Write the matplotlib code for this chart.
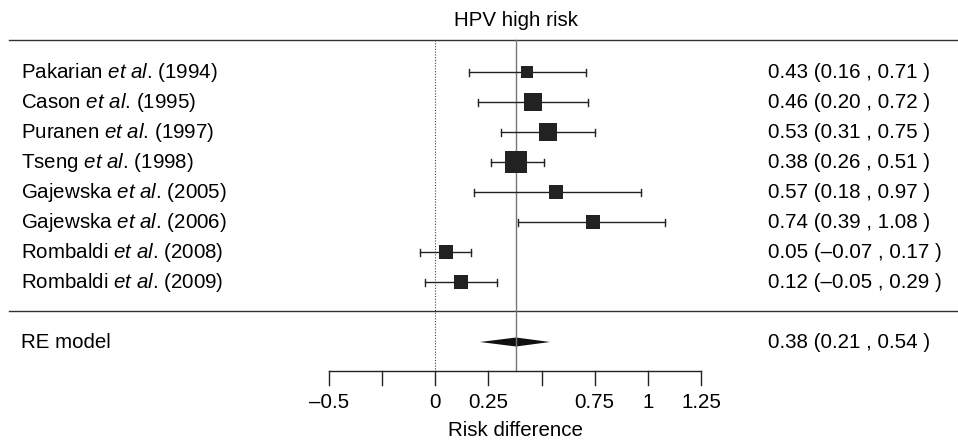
import numpy as np
import matplotlib
matplotlib.use("Agg")
import matplotlib.pyplot as plt
from matplotlib.transforms import blended_transform_factory

plt.rcParams['font.family'] = ['Liberation Sans', 'DejaVu Sans']
plt.rcParams['mathtext.fontset'] = 'custom'
plt.rcParams['mathtext.rm'] = 'Liberation Sans'
plt.rcParams['mathtext.it'] = 'Liberation Sans:italic'

# study data
authors = ["Pakarian", "Cason", "Puranen", "Tseng", "Gajewska",
           "Gajewska", "Rombaldi", "Rombaldi"]
years = [1994, 1995, 1997, 1998, 2005, 2006, 2008, 2009]
est = [0.43, 0.46, 0.53, 0.38, 0.57, 0.74, 0.05, 0.12]
lo = [0.16, 0.20, 0.31, 0.26, 0.18, 0.39, -0.07, -0.05]
hi = [0.71, 0.72, 0.75, 0.51, 0.97, 1.08, 0.17, 0.29]
weights = [6.9, 13.8, 15.4, 23.1, 10.7, 8.7, 10.7, 10.7]

re_est, re_lo, re_hi = 0.38, 0.21, 0.54

ticks = [-0.5, -0.25, 0, 0.25, 0.5, 0.75, 1, 1.25]
tick_labels = ["\u20130.5", "", "0", "0.25", "", "0.75", "1", "1.25"]


def ci_text(e, l, h):
    s = "%.2f (%.2f , %.2f )" % (e, l, h)
    return s.replace("-", "\u2013")


W, H = 958, 441
fig = plt.figure(figsize=(W / 100, H / 100), dpi=100)
ax = fig.add_axes([0, 0, 1, 1])
ax.set_axis_off()

# x in data units, y in pixels from the top
px_per_unit = 212.6
x0_px = 329
ax.set_xlim(-0.5 - x0_px / px_per_unit, 1.25 + (W - 701) / px_per_unit)
ax.set_ylim(H, 0)
tr = blended_transform_factory(ax.transAxes, ax.transData)

fs = 14.8
row_top, row_step = 72, 30
rows = [row_top + i * row_step for i in range(len(est))]
top_line, sep_line, re_y, axis_y = 40, 311, 342, 371
label_x, num_x = 21 / W, 768 / W

# frame lines
ax.plot([9 / W, 1], [top_line, top_line], color="#333333", lw=1, transform=tr)
ax.plot([9 / W, 1], [sep_line, sep_line], color="#333333", lw=1, transform=tr)

# reference lines
ax.plot([0, 0], [top_line, axis_y], color="#444444", lw=0.8, ls=(0, (1, 1.5)))
ax.plot([re_est, re_est], [top_line, axis_y], color="#777777", lw=1)

# studies
for i, y in enumerate(rows):
    ax.plot([lo[i], hi[i]], [y, y], color="#222222", lw=1)
    for e in (lo[i], hi[i]):
        ax.plot([e, e], [y - 3.5, y + 3.5], color="#222222", lw=1)
    side = 4.58 * np.sqrt(weights[i])
    ax.scatter([est[i]], [y], marker="s", s=(side * 0.72) ** 2,
               color="#222222", linewidths=0, zorder=3)
    label = authors[i] + r" $\it{et\ al}$. (%d)" % years[i]
    ax.text(label_x, y, label, transform=tr, fontsize=fs,
            va="center", ha="left")
    ax.text(num_x, y, ci_text(est[i], lo[i], hi[i]),
            transform=tr, fontsize=fs, va="center", ha="left")

# RE model diamond
ax.fill([re_lo, re_est, re_hi, re_est], [re_y, re_y - 4.5, re_y, re_y + 4.5],
        color="#111111", lw=0)
ax.text(label_x, re_y, "RE model", transform=tr, fontsize=fs, va="center")
ax.text(num_x, re_y, ci_text(re_est, re_lo, re_hi),
        transform=tr, fontsize=fs, va="center", ha="left")

# x axis
ax.plot([ticks[0], ticks[-1]], [axis_y, axis_y], color="#222222", lw=1)
for tk, lab in zip(ticks, tick_labels):
    ax.plot([tk, tk], [axis_y, axis_y + 14], color="#222222", lw=1)
    ax.text(tk, axis_y + 31, lab, fontsize=fs, ha="center", va="center")
ax.text(0.375, 430, "Risk difference", fontsize=fs, ha="center", va="center")

ax.text(re_est, 20, "HPV high risk", fontsize=fs, ha="center", va="center")

fig.savefig("out.png", dpi=100)
